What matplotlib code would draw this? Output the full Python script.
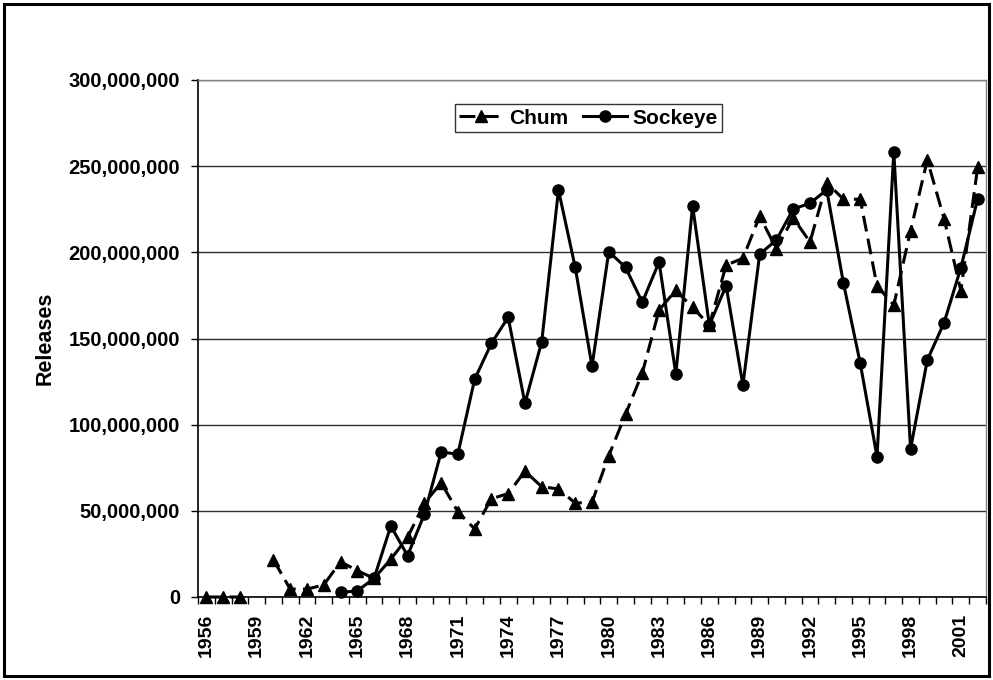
import numpy as np
import matplotlib
matplotlib.use("Agg")
import matplotlib.pyplot as plt
from matplotlib.patches import Rectangle
from matplotlib.ticker import FuncFormatter, FixedLocator

plt.rcParams['font.family'] = ['Liberation Sans', 'DejaVu Sans']
plt.rcParams['font.weight'] = 'bold'

# ---- data (millions of fish released) ----
years = list(range(1956, 2003))
nan = np.nan
chum = [0, 0, 0, nan, 21.5, 4.6, 4.6, 7, 20.5, 15.3,
        10.8, 21.9, 34.6, 54.4, 66.3, 49.5, 39.5, 57, 60, 73,
        64, 62.7, 54.5, 55, 82, 106, 130, 166.5, 178, 168,
        157.8, 192.6, 196.5, 221, 202, 220, 206, 240.4, 230.8, 230.8,
        180.5, 169.4, 212.6, 253.6, 219.5, 177.7, 249.3]
sockeye = [nan, nan, nan, nan, nan, nan, nan, nan, 2.7, 3.5,
           10.8, 41.2, 24, 48, 84, 83, 126.3, 147.2, 162.3, 112.4,
           148, 236.2, 191.3, 133.9, 200.4, 191.3, 171, 194.4, 129.4, 227,
           157.8, 180.6, 123, 198.9, 207.2, 225.1, 228.5, 236.2, 182, 135.6,
           81.4, 258.4, 85.9, 137.5, 159.2, 191, 231]

chum = np.array(chum) * 1e6
sockeye = np.array(sockeye) * 1e6
x = np.arange(len(years))

W, H = 993, 680
fig = plt.figure(figsize=(W / 100, H / 100), dpi=100)
ax = fig.add_axes([198 / W, (H - 597) / H, (986 - 198) / W, (597 - 80) / H])

ax.plot(x, chum, color='black', lw=2.2, linestyle=(0, (5.2, 2.4)),
        marker='^', markersize=8, label='Chum', clip_on=False, zorder=3)
ax.plot(x, sockeye, color='black', lw=2.2, linestyle='-',
        marker='o', markersize=8, label='Sockeye', clip_on=False, zorder=3)

ax.set_xlim(-0.5, len(years) - 0.5)
ax.set_ylim(0, 300e6)
ax.set_yticks(np.arange(0, 300e6 + 1, 50e6))
ax.yaxis.set_major_formatter(FuncFormatter(lambda v, p: f"{int(v):,}"))
ax.grid(axis='y', color='#303030', lw=1)
ax.set_axisbelow(True)

ax.set_xticks(x[::3])
ax.set_xticklabels([str(y) for y in years[::3]], rotation=90)
ax.xaxis.set_minor_locator(FixedLocator(np.arange(-0.5, len(years), 1)))
ax.tick_params(axis='x', which='major', length=0, pad=12, labelsize=14)
ax.tick_params(axis='x', which='minor', length=5, width=1, direction='out')
ax.tick_params(axis='y', length=5, width=1, direction='out', labelsize=14.5, pad=8)

for s in ['left', 'bottom']:
    ax.spines[s].set_color('black')
    ax.spines[s].set_linewidth(1.2)
for s in ['top', 'right']:
    ax.spines[s].set_color('#808080')
    ax.spines[s].set_linewidth(1)

ax.set_ylabel('Releases', fontsize=15.5, fontweight='bold', labelpad=9)

leg = ax.legend(loc='upper center', bbox_to_anchor=(0.4956, 0.973), ncol=2,
                frameon=True, fancybox=False, fontsize=15, handlelength=2.1,
                columnspacing=0.7, handletextpad=0.3, borderpad=0.2)
leg.get_frame().set_edgecolor('black')
leg.get_frame().set_linewidth(1)

fig.patches.append(Rectangle((4 / W, 4 / H), (W - 8) / W, (H - 8) / H,
                             transform=fig.transFigure, fill=False,
                             edgecolor='black', lw=2.2))

fig.savefig('out.png', dpi=100)
